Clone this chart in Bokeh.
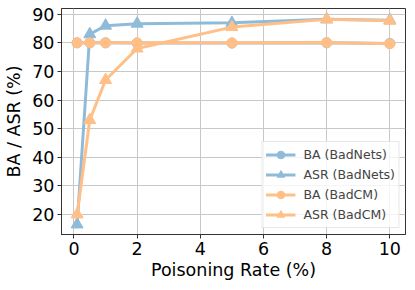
from bokeh.plotting import figure
from bokeh.models import Range1d, FixedTicker
from bokeh.embed import file_html
from bokeh.resources import INLINE

rates = [0.1, 0.5, 1, 2, 5, 8, 10]
ba_badnets = [80.0, 80.0, 80.0, 79.9, 79.9, 80.0, 79.8]
asr_badnets = [16.5, 83.0, 86.0, 86.7, 87.0, 88.2, 87.9]
ba_badcm = [80.0, 80.0, 80.0, 80.0, 80.0, 80.1, 79.7]
asr_badcm = [20.0, 53.0, 67.0, 78.0, 85.5, 88.2, 87.7]

blue = "#8fbbd9"
orange = "#ffbf86"
FONT = "DejaVu Sans"

p = figure(width=415, height=290, output_backend="svg", toolbar_location=None,
           x_range=Range1d(-0.395, 10.495), y_range=Range1d(13.0, 92.0),
           min_border_left=61, min_border_right=10, min_border_top=8, min_border_bottom=56,
           frame_width=344, frame_height=226)

series = [
    (ba_badnets, blue, "circle", "BA (BadNets)"),
    (asr_badnets, blue, "triangle", "ASR (BadNets)"),
    (ba_badcm, orange, "circle", "BA (BadCM)"),
    (asr_badcm, orange, "triangle", "ASR (BadCM)"),
]
for vals, col, mk, lab in series:
    p.line(rates, vals, line_color=col, line_width=3, legend_label=lab)
    p.scatter(rates, vals, marker=mk, size=12 if mk == "triangle" else 10,
              fill_color=col, line_color=col, legend_label=lab)

p.xaxis.ticker = FixedTicker(ticks=[0, 2, 4, 6, 8, 10])
p.yaxis.ticker = FixedTicker(ticks=[20, 30, 40, 50, 60, 70, 80, 90])
p.xaxis.axis_label = "Poisoning Rate (%)"
p.yaxis.axis_label = "BA / ASR (%)"
for ax in (p.xaxis, p.yaxis):
    ax.major_label_text_font = FONT
    ax.major_label_text_font_size = "17.5px"
    ax.major_label_text_color = "black"
    ax.axis_label_text_font = FONT
    ax.axis_label_text_font_size = "17.5px"
    ax.axis_label_text_font_style = "normal"
    ax.axis_label_text_color = "black"
    ax.minor_tick_line_color = None
    ax.major_tick_in = 0
    ax.major_tick_out = 4
    ax.major_tick_line_color = "#333333"
    ax.axis_line_color = "#333333"
p.xaxis.axis_label_standoff = 2
p.yaxis.axis_label_standoff = 5
p.xaxis.major_label_standoff = 3
p.yaxis.major_label_standoff = 3

p.grid.grid_line_color = "#c8c8c8"
p.grid.grid_line_width = 1
p.outline_line_color = "#333333"
p.outline_line_width = 1

p.legend.location = "bottom_right"
p.legend.margin = 6
p.legend.padding = 3
p.legend.spacing = 1
p.legend.glyph_height = 19
p.legend.glyph_width = 30
p.legend.label_standoff = 8
p.legend.label_text_font = FONT
p.legend.label_text_font_size = "12.5px"
p.legend.label_height = 19
p.legend.border_line_color = "#d0d0d0"
p.legend.background_fill_alpha = 0.8

open("out.html", "w").write(file_html(p, INLINE))
